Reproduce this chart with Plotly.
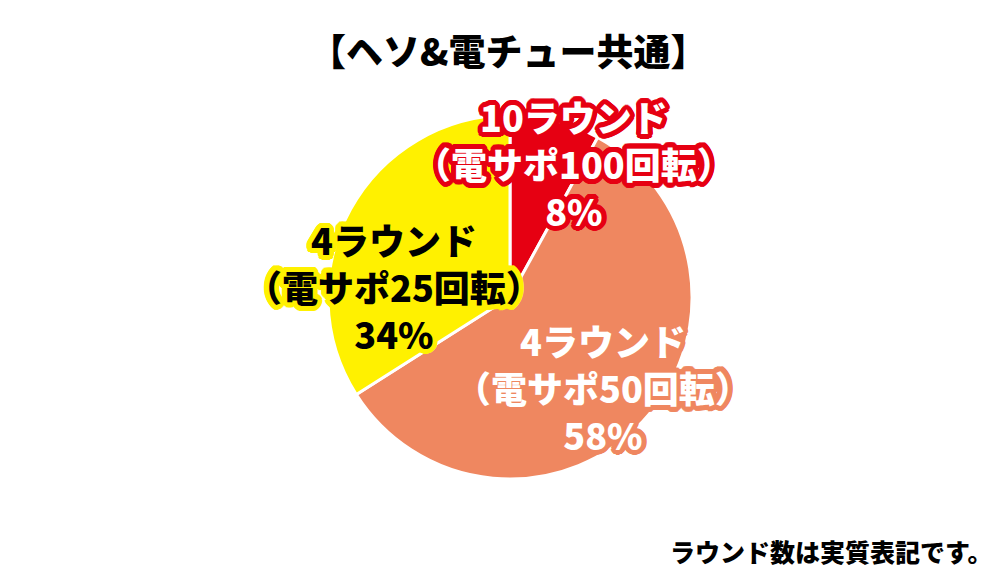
import math
import plotly.graph_objects as go

# Data
labels = ["10ラウンド（電サポ100回転）", "4ラウンド（電サポ50回転）", "4ラウンド（電サポ25回転）"]
values = [8, 58, 34]
colors = ["#e60012", "#ef8760", "#fff100"]
title_text = "【ヘソ&電チュー共通】"
note_text = "ラウンド数は実質表記です。"

label_lines = [
    "10ラウンド<br>（電サポ100回転）<br>8%",
    "4ラウンド<br>（電サポ50回転）<br>58%",
    "4ラウンド<br>（電サポ25回転）<br>34%",
]
text_colors = ["#ffffff", "#ffffff", "#000000"]
stroke_colors = ["#e60012", "#ef8760", "#fff100"]
label_pos = [(566, 155), (595, 379), (386, 278)]

W, H = 1000, 577
FONT = "Noto Sans CJK JP, Noto Sans CJK SC, sans-serif"


def stroke(col, r=5, n=24):
    parts = []
    for k in range(n):
        a = 2 * math.pi * k / n
        parts.append(f"{r*math.cos(a):.1f}px {r*math.sin(a):.1f}px 0 {col}")
    for k in range(12):
        a = 2 * math.pi * k / 12
        parts.append(f"{r*0.55*math.cos(a):.1f}px {r*0.55*math.sin(a):.1f}px 0 {col}")
    return ", ".join(parts)


cx, cy, R = 502, 289, 182
fig = go.Figure(
    go.Pie(
        labels=labels,
        values=values,
        sort=False,
        direction="clockwise",
        rotation=0,
        textinfo="none",
        hoverinfo="label+percent",
        marker=dict(colors=colors, line=dict(color="white", width=3)),
        domain=dict(x=[(cx - R) / W, (cx + R) / W], y=[1 - (cy + R) / H, 1 - (cy - R) / H]),
        showlegend=False,
    )
)

annotations = []
for txt, tc, sc, (x, y) in zip(label_lines, text_colors, stroke_colors, label_pos):
    annotations.append(
        dict(
            x=x / W, y=1 - y / H, xref="paper", yref="paper",
            text=txt, showarrow=False, align="center",
            xanchor="center", yanchor="middle",
            font=dict(family=FONT, size=36, color=tc, weight=900, shadow=stroke(sc)),
        )
    )
annotations.append(
    dict(
        x=500 / W, y=1 - 42 / H, xref="paper", yref="paper",
        text=title_text, showarrow=False, xanchor="center", yanchor="middle",
        font=dict(family=FONT, size=37, color="#000000", weight=900),
    )
)
annotations.append(
    dict(
        x=987 / W, y=1 - 543 / H, xref="paper", yref="paper",
        text=note_text, showarrow=False, xanchor="right", yanchor="middle",
        font=dict(family=FONT, size=25, color="#000000", weight=900),
    )
)

fig.update_layout(
    width=W, height=H,
    margin=dict(l=0, r=0, t=0, b=0),
    paper_bgcolor="white", plot_bgcolor="white",
    annotations=annotations,
)
fig.write_html("out.html")
